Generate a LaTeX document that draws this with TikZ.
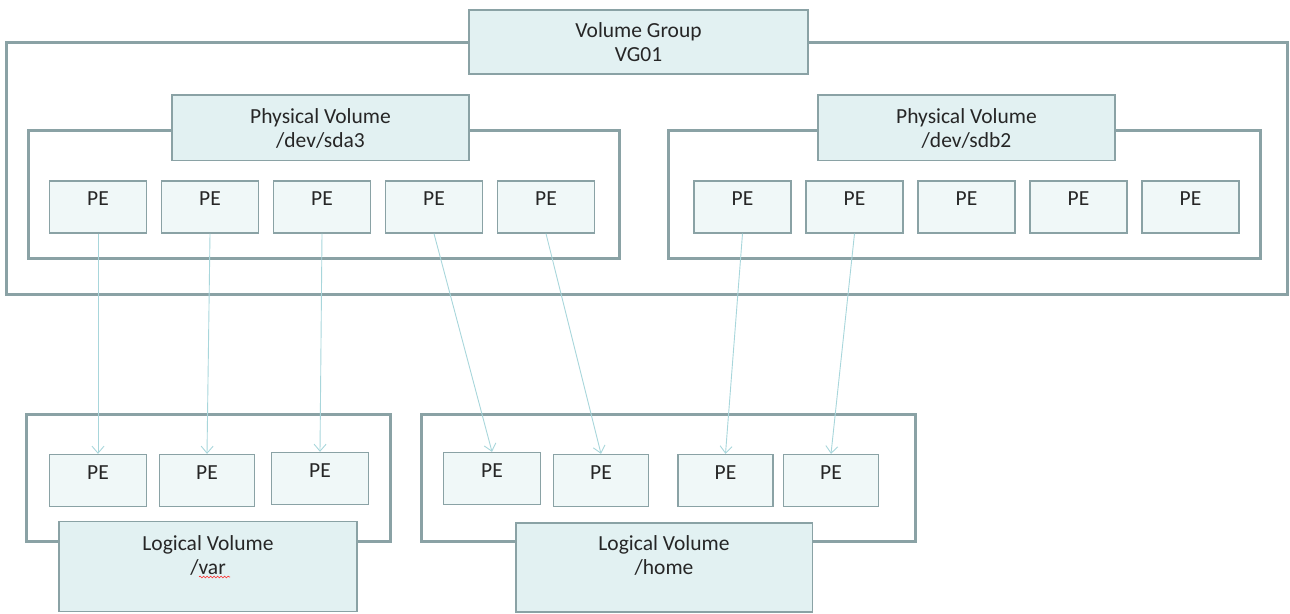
\documentclass[tikz,border=0pt]{standalone}
\usepackage{fontspec}
\setmainfont{Carlito}
\usepackage{tikz}
\usetikzlibrary{arrows.meta}
\usetikzlibrary{decorations.pathmorphing}

\definecolor{frameline}{HTML}{8AA2A5}
\definecolor{labelfill}{HTML}{E2F1F2}
\definecolor{pefill}{HTML}{F0F8F8}
\definecolor{arrowline}{HTML}{A8D6DB}
\definecolor{textgray}{HTML}{262626}

\begin{document}
\begin{tikzpicture}[x=1pt,y=1pt]
				\tikzset{frame/.style = {shape=rectangle,draw=frameline,line width=3pt,
						inner sep = 0pt}}
				\tikzset{volbox/.style = {shape=rectangle,draw=frameline,fill=labelfill,
						line width=1.5pt,inner sep = 0pt,align=center,text=textgray,
						font=\fontsize{21.5}{24}\selectfont}}
				\tikzset{pebox/.style = {shape=rectangle,draw=frameline,fill=pefill,
						line width=1.3pt,inner sep = 0pt,text height=25pt,text depth=27pt,
						minimum width=97pt,text=textgray,font=\fontsize{21.5}{24}\selectfont}}
				\tikzset{edge/.style = {-{Straight Barb[length=7pt,width=12pt]},
						draw=arrowline,line width=0.9pt}}
				
				\useasboundingbox (0,0) rectangle (1290,613);
				
				% frames
				\node[frame,minimum width=1281pt,minimum height=252pt] (vg) at (646.5,444) {};
				\node[frame,minimum width=591pt,minimum height=128pt] (pva) at (324,418.5) {};
				\node[frame,minimum width=592pt,minimum height=128pt] (pvb) at (964,418.5) {};
				\node[frame,minimum width=364pt,minimum height=127pt] (lva) at (208,134.5) {};
				\node[frame,minimum width=494pt,minimum height=127pt] (lvb) at (668,134.5) {};
				
				% labels
				\node[volbox,minimum width=339pt,minimum height=64pt] (vglabel) at (638.5,571)
					{Volume Group\\VG01};
				\node[volbox,minimum width=297pt,minimum height=65.5pt] (pvalabel) at (320.5,485)
					{Physical Volume\\/dev/sda3};
				\node[volbox,minimum width=297pt,minimum height=65.5pt] (pvblabel) at (966.5,485)
					{Physical Volume\\/dev/sdb2};
				\node[volbox,minimum width=298pt,minimum height=90pt] (lvalabel) at (208,46.4)
					{Logical Volume\\/var\\~};
				\node[volbox,minimum width=296.5pt,minimum height=88.7pt] (lvblabel) at (664,45.6)
					{Logical Volume\\/home\\~};
				
				% extents, /dev/sda3
				\node[pebox] (a1) at (98,406) {PE};
				\node[pebox] (a2) at (210,406) {PE};
				\node[pebox] (a3) at (322,406) {PE};
				\node[pebox] (a4) at (434,406) {PE};
				\node[pebox] (a5) at (546,406) {PE};
				
				% extents, /dev/sdb2
				\node[pebox] (b1) at (742.5,406) {PE};
				\node[pebox] (b2) at (854.5,406) {PE};
				\node[pebox] (b3) at (966.5,406) {PE};
				\node[pebox] (b4) at (1078.5,406) {PE};
				\node[pebox] (b5) at (1190.5,406) {PE};
				
				% extents, /var
				\node[pebox] (v1) at (98,132.5) {PE};
				\node[pebox,minimum width=95pt] (v2) at (207,132.5) {PE};
				\node[pebox] (v3) at (320,134.5) {PE};
				
				% extents, /home
				\node[pebox] (h1) at (492,134.5) {PE};
				\node[pebox,minimum width=95pt] (h2) at (601,132.5) {PE};
				\node[pebox,minimum width=95pt] (h3) at (725.5,132.5) {PE};
				\node[pebox,minimum width=95pt] (h4) at (831,132.5) {PE};
				
				% spell check mark
				\draw[red!85,line width=0.6pt,decorate,
					decoration={snake,amplitude=0.9pt,segment length=3.5pt}] (199,36) -- (230,36);
				
				%edges
				\draw[edge] (a1.south) to (v1.north);
				\draw[edge] (a2.south) to (v2.north);
				\draw[edge] (a3.south) to (v3.north);
				\draw[edge] (a4.south) to (h1.north);
				\draw[edge] (a5.south) to (h2.north);
				\draw[edge] (b1.south) to (h3.north);
				\draw[edge] (b2.south) to (h4.north);
				
\end{tikzpicture}
\end{document}
